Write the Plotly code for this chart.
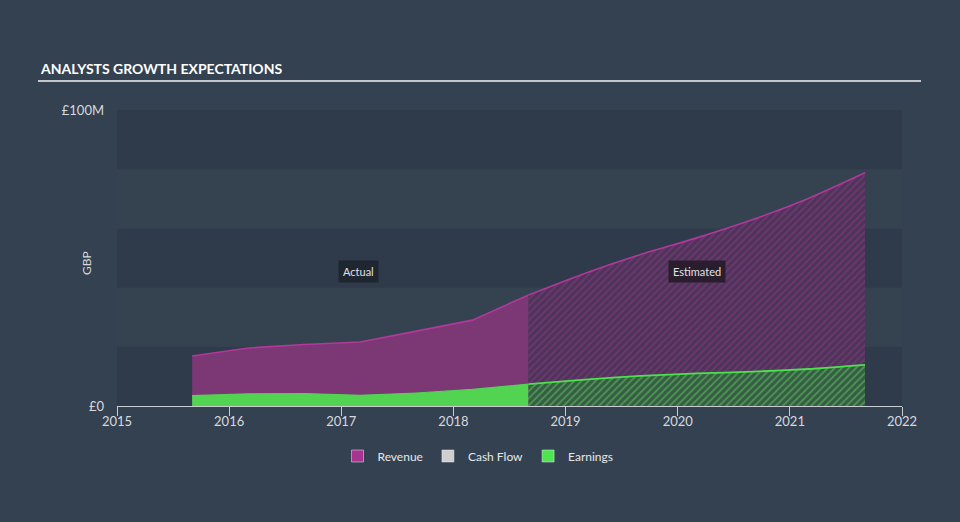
import plotly.graph_objects as go

# ---- data (GBP millions, decimal years) ----
act_x = [2015.67, 2016.17, 2016.67, 2017.17, 2017.67, 2018.17, 2018.67]
act_revenue = [16.9, 19.6, 20.8, 21.6, 25.3, 29.0, 37.5]
act_earnings = [3.5, 4.1, 4.2, 3.6, 4.4, 5.6, 7.4]

est_x = [2018.67, 2019.17, 2019.67, 2020.17, 2020.67, 2021.17, 2021.67]
est_revenue = [37.5, 44.8, 51.2, 56.8, 63.0, 70.2, 78.8]
est_earnings = [7.4, 8.9, 10.2, 11.0, 11.6, 12.5, 13.9]

years = [2015, 2016, 2017, 2018, 2019, 2020, 2021, 2022]
year_labels = [str(y) for y in years]
ytick_vals = [0, 100]
ytick_text = ["£0", "£100M"]

BG = "#344151"
BAND_DARK = "#2f3b4a"
BAND_LIGHT = "#354351"
REV_LINE = "#b2389c"
REV_FILL = "#7b3874"
EARN_LINE = "#4be24b"
EARN_FILL = "#52d452"
TXT = "#d6dadf"

fig = go.Figure()

# Revenue actual
fig.add_trace(go.Scatter(x=act_x, y=act_revenue, mode="lines", fill="tozeroy",
                         fillcolor=REV_FILL, line=dict(color=REV_LINE, width=1.6),
                         showlegend=False, hoverinfo="skip"))
# Revenue estimated (hatched)
fig.add_trace(go.Scatter(x=est_x, y=est_revenue, mode="lines", fill="tozeroy",
                         line=dict(color=REV_LINE, width=1.6, shape="spline", smoothing=0.6),
                         fillcolor="rgba(0,0,0,0)",
                         fillpattern=dict(shape="/", bgcolor="#4c3558", fgcolor="#93378a",
                                          size=5, solidity=0.35),
                         showlegend=False, hoverinfo="skip"))
# Earnings actual
fig.add_trace(go.Scatter(x=act_x, y=act_earnings, mode="lines", fill="tozeroy",
                         fillcolor=EARN_FILL, line=dict(color=EARN_FILL, width=1.2),
                         showlegend=False, hoverinfo="skip"))
# Earnings estimated (hatched)
fig.add_trace(go.Scatter(x=est_x, y=est_earnings, mode="lines", fill="tozeroy",
                         line=dict(color=EARN_LINE, width=1.8, shape="spline", smoothing=0.6),
                         fillcolor="rgba(0,0,0,0)",
                         fillpattern=dict(shape="/", bgcolor="#385a46", fgcolor="#5ad25a",
                                          size=5, solidity=0.4),
                         showlegend=False, hoverinfo="skip"))

# Legend-only entries
for name, col in [("Revenue", "#a8348f"), ("Cash Flow", "#cfcfcf"), ("Earnings", "#4ee44e")]:
    fig.add_trace(go.Bar(x=[None], y=[None], name=name, marker=dict(color=col)))

# background bands
shapes = []
for i in range(5):
    shapes.append(dict(type="rect", xref="paper", yref="y", x0=0, x1=1,
                       y0=i * 20, y1=(i + 1) * 20, layer="below", line=dict(width=0),
                       fillcolor=BAND_DARK if i % 2 == 0 else BAND_LIGHT))
# title underline
shapes.append(dict(type="line", xref="paper", yref="paper",
                   x0=(38 - 117) / 785, x1=(921 - 117) / 785,
                   y0=(406 - 81) / 296, y1=(406 - 81) / 296,
                   line=dict(color="#c3c7cc", width=2)))

annotations = [
    dict(text="<b>ANALYSTS GROWTH EXPECTATIONS</b>", xref="paper", yref="paper",
         x=(38 - 117) / 785, y=(406 - 68) / 296, xanchor="left", yanchor="middle",
         showarrow=False,
         font=dict(family="Lato, sans-serif", size=14, color="#ffffff")),
    dict(text="GBP", xref="paper", yref="paper", x=(86 - 117) / 785, y=(406 - 263) / 296,
         xanchor="center", yanchor="middle", textangle=-90, showarrow=False,
         font=dict(family="Lato, sans-serif", size=12, color=TXT)),
    dict(text="Actual", x=2017.15, y=45.5, xref="x", yref="y", showarrow=False,
         font=dict(family="Lato, sans-serif", size=11, color="#e2e2e2"),
         bgcolor="#1f2630", borderpad=4),
    dict(text="Estimated", x=2020.17, y=45.5, xref="x", yref="y", showarrow=False,
         font=dict(family="Lato, sans-serif", size=11, color="#e2e2e2"),
         bgcolor="#2a1d2e", borderpad=4),
]

fig.update_layout(
    width=960, height=522,
    paper_bgcolor=BG, plot_bgcolor=BG,
    margin=dict(l=117, r=58, t=110, b=116),
    shapes=shapes, annotations=annotations,
    font=dict(family="Lato, sans-serif", color=TXT, size=12),
    legend=dict(orientation="h", x=(478 - 117) / 785, xanchor="center",
                y=-50 / 296, yanchor="middle", font=dict(size=12, color="#e6e8ea"),
                itemwidth=30, bgcolor="rgba(0,0,0,0)"),
    xaxis=dict(range=[2015, 2022], tickvals=years, ticktext=year_labels,
               showgrid=False, zeroline=False, showline=True, linecolor="#c9cdd2",
               linewidth=1, ticks="outside", ticklen=9, tickcolor="#c9cdd2",
               ticklabelstandoff=-6,
               tickfont=dict(size=13, color=TXT), fixedrange=True),
    yaxis=dict(range=[0, 100], tickvals=ytick_vals, ticktext=ytick_text,
               showgrid=False, zeroline=False, showline=False, ticks="",
               ticklabelstandoff=12,
               tickfont=dict(size=13, color=TXT), fixedrange=True),
    showlegend=True,
)

fig.write_html("out.html")
